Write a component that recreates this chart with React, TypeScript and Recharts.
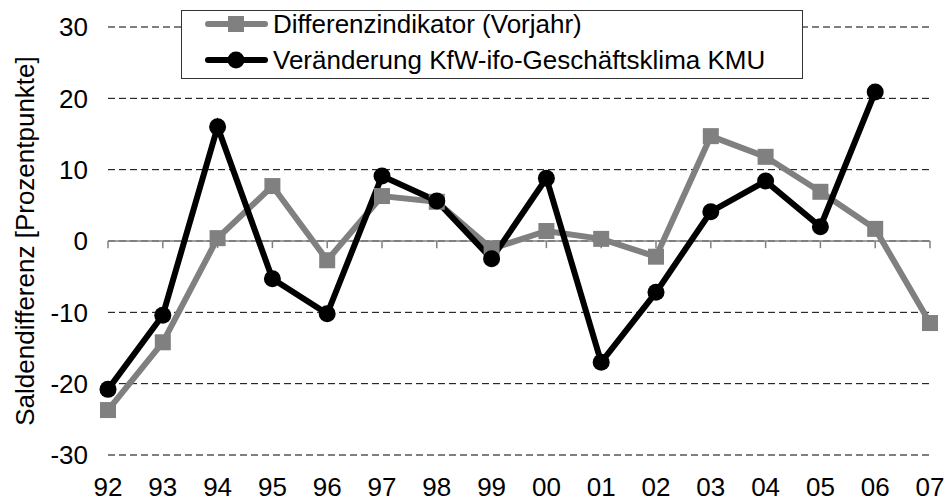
import React from "react";
import { LineChart, Line, XAxis, YAxis, CartesianGrid, ReferenceLine } from "recharts";

const categories = ["92","93","94","95","96","97","98","99","00","01","02","03","04","05","06","07"];
const differenzindikator = [-23.7,-14.2,0.4,7.7,-2.7,6.3,5.5,-1.1,1.4,0.3,-2.2,14.7,11.8,6.9,1.7,-11.5];
const veraenderung: (number|null)[] = [-20.8,-10.4,16.0,-5.3,-10.2,9.1,5.6,-2.5,8.8,-17.0,-7.2,4.1,8.4,2.0,20.9,null];
const yTicks = [-30,-20,-10,0,10,20,30];
const seriesNames = ["Differenzindikator (Vorjahr)", "Veränderung KfW-ifo-Geschäftsklima KMU"];

const data = categories.map((c, i) => ({ cat: c, diff: differenzindikator[i], ver: veraenderung[i] }));

const FONT = "'Liberation Sans', Arial, sans-serif";
const GRAY = "#808080";
const FS = 26;

const SquareDot = (props: any) => {
  const { cx, cy } = props;
  if (cx == null || cy == null) return null;
  return <rect x={cx - 8} y={cy - 8} width={16} height={16} fill={GRAY} />;
};
const CircleDot = (props: any) => {
  const { cx, cy } = props;
  if (cx == null || cy == null) return null;
  return <circle cx={cx} cy={cy} r={8.5} fill="#000" />;
};

const LegendBox = () => (
  <svg width={623} height={70} style={{ display: "block", position: "absolute", left: 181, top: 10 }}>
    <rect x={0.5} y={0.5} width={621} height={68} fill="#fff" stroke="#333" strokeWidth={1} />
    <line x1={27} y1={14} x2={84} y2={14} stroke={GRAY} strokeWidth={6} strokeLinecap="round" />
    <rect x={47} y={6} width={16} height={16} fill={GRAY} />
    <text x={92} y={14} dominantBaseline="central" fontFamily={FONT} fontSize={FS} fill="#000">{seriesNames[0]}</text>
    <line x1={27} y1={50} x2={84} y2={50} stroke="#000" strokeWidth={6} strokeLinecap="round" />
    <circle cx={55} cy={50} r={8.5} fill="#000" />
    <text x={92} y={50} dominantBaseline="central" fontFamily={FONT} fontSize={FS} fill="#000">{seriesNames[1]}</text>
  </svg>
);

export default function App() {
  return (
    <div style={{ position: "absolute", left: 0, top: 0, width: 948, height: 504 }}>
      <LineChart width={948} height={504} data={data} margin={{ top: 27, right: 18, bottom: 0, left: 0 }}>
        <CartesianGrid vertical={false} stroke="#000" strokeDasharray="7 4" />
        <XAxis dataKey="cat" axisLine={false} tickLine={false} height={49} tickSize={0} tickMargin={23}
          tick={{ fontFamily: FONT, fontSize: FS, fill: "#000" }} interval={0} />
        <YAxis domain={[-30, 30]} ticks={yTicks} axisLine={false} tickLine={false} width={108} tickSize={0} tickMargin={20}
          tick={{ fontFamily: FONT, fontSize: FS, fill: "#000" }}
          label={{ value: "Saldendifferenz [Prozentpunkte]", angle: -90, position: "center", dx: -29, style: { fontFamily: FONT, fontSize: FS, fill: "#000", textAnchor: "middle" } }} />
        <ReferenceLine y={0} stroke={GRAY} strokeWidth={1.5} />
        {categories.map((c) => (
          <ReferenceLine key={c} segment={[{ x: c, y: 0 }, { x: c, y: -1 }]} stroke={GRAY} strokeWidth={1.5} />
        ))}
        <Line dataKey="diff" stroke={GRAY} strokeWidth={6} dot={<SquareDot />} isAnimationActive={false} />
        <Line dataKey="ver" stroke="#000" strokeWidth={6} dot={<CircleDot />} isAnimationActive={false} />
      </LineChart>
      <LegendBox />
    </div>
  );
}
